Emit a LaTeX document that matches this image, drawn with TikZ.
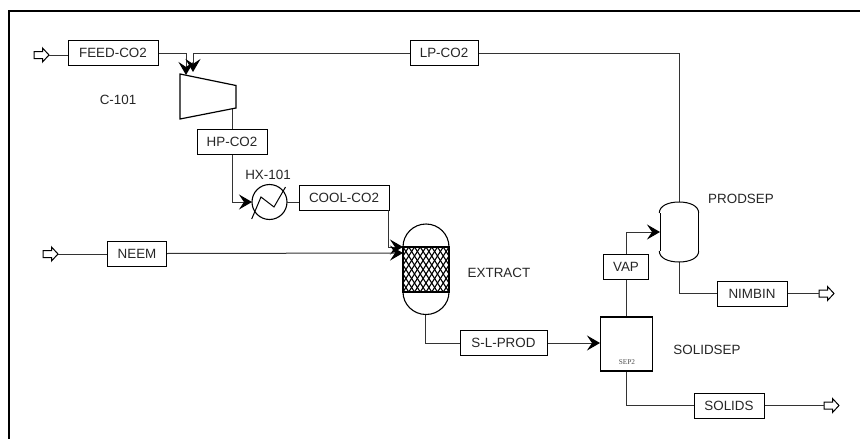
\documentclass[tikz,border=0pt]{standalone}
\usepackage{fontspec}
\setmainfont{Liberation Sans}
\newfontfamily\tagserif{Liberation Serif}
\usetikzlibrary{arrows.meta}
\tikzset{
  streambox/.style={draw=black,line width=1pt,fill=white,inner sep=0pt,font=\fontsize{13.4}{15}\selectfont,text=black!85},
  flow/.style={draw=black!80,line width=1pt},
  flowto/.style={flow,-{Stealth[length=13pt,width=15pt,inset=5pt,black]}},
  portarrow/.style={draw=black,line width=1pt,fill=white,line join=miter},
  tag/.style={font=\fontsize{13.4}{15}\selectfont,text=black!85,inner sep=0pt},
}
\begin{document}
\begin{tikzpicture}[x=1pt,y=-1pt]
\useasboundingbox (0,0) rectangle (860,439);
\fill[white] (0,0) rectangle (860,439);
\draw[line width=2pt,black] (8.5,439) -- (8.5,11) -- (860,11);

% equipment coordinates
\coordinate (compIn1) at (186,75);
\coordinate (compIn2) at (193,72);
\coordinate (compOut) at (232,108);
\coordinate (extIn1) at (403,247);
\coordinate (extIn2) at (403,253);
\coordinate (extOut) at (425.5,314.5);
\coordinate (sepTop) at (679,202);
\coordinate (sepBot) at (679,262);
\coordinate (sepIn) at (660,232);
\coordinate (solidVap) at (626,317);
\coordinate (solidOut) at (626,371);
\coordinate (solidIn) at (600,343);
\coordinate (coolOut) at (388,210);

% stream boxes
\node[streambox,minimum width=90pt,minimum height=25pt] (feed) at (113,53) {FEED-CO2};
\node[streambox,minimum width=68pt,minimum height=25pt] (lp) at (444,53) {LP-CO2};
\node[streambox,minimum width=70pt,minimum height=25pt] (hp) at (232,141.5) {HP-CO2};
\node[streambox,minimum width=90pt,minimum height=25pt] (cool) at (344,197.5) {COOL-CO2};
\node[streambox,minimum width=59pt,minimum height=25pt] (neem) at (137,253.5) {NEEM};
\node[streambox,minimum width=87pt,minimum height=25pt] (slprod) at (503.5,343) {S-L-PROD};
\node[streambox,minimum width=45pt,minimum height=25pt] (vap) at (626,266.5) {VAP};
\node[streambox,minimum width=70pt,minimum height=25pt] (nimbin) at (752,293.5) {NIMBIN};
\node[streambox,minimum width=70pt,minimum height=25pt] (solids) at (729,405.5) {SOLIDS};

% HX
\node[draw=black,line width=1.1pt,circle,minimum size=35pt,inner sep=0pt,outer sep=0pt,fill=white] (hx) at (269.5,202) {};
\node[tag] (hxl) at (268,175) {HX-101};

% ports
\foreach \n/\x/\y in {pFeed/34/55,pNeem/43/254,pNimbin/819/293.5,pSolids/824/405.5} {
  \coordinate (\n-tail) at (\x,\y);
  \coordinate (\n-tip) at ({\x+15},\y);
  \draw[portarrow] (\x,{\y-3.5}) -- ++(8.5,0) -- ++(0,-3.5) -- ++(6.5,7) -- ++(-6.5,7) -- ++(0,-3.5) -- ++(-8.5,0) -- cycle;
}

% connectors
\draw[flowto] (feed.east) -| (compIn1);
\draw[flowto] (lp.west) -| (compIn2);
\draw[flow] (lp.east) -| (sepTop);
\draw[flow] (compOut) -- (hp.north);
\draw[flowto] (hp.south) |- (hx.west);
\draw[flow] (hx.east) -- (cool.west |- hx.east);
\draw[flowto] (coolOut) |- (extIn1);
\draw[flowto] (neem.east) -- (extIn2);
\draw[flow] (extOut) |- (slprod.west);
\draw[flowto] (slprod.east) -- (solidIn);
\draw[flow] (solidVap) -- (vap.south);
\draw[flowto] (vap.north) |- (sepIn);
\draw[flow] (sepBot) |- (nimbin.west);
\draw[flow] (solidOut) |- (solids.west);
\draw[flow] (pFeed-tip) -- (pFeed-tip -| feed.west);
\draw[flow] (pNeem-tip) -- (pNeem-tip -| neem.west);
\draw[flow] (nimbin.east) -- (pNimbin-tail);
\draw[flow] (solids.east) -- (pSolids-tail);

% compressor
\draw[line width=1.2pt,black] (180,74) -- (236,85.5) -- (236,108) -- (180,119) -- cycle;
\node[tag] (c101) at (118,100) {C-101};

% heat exchanger zigzag
\draw[line width=1pt,black] (251.7,219) -- (261,197) -- (274,207) -- (285.5,187);

% extractor
\begin{scope}
\clip (403,247) rectangle (449,292);
\foreach \i in {-6,...,9} {
  \draw[line width=1.1pt,black] ({403+5.75*\i},247) -- ({403+5.75*\i+28.75},292);
  \draw[line width=1.1pt,black] ({403+5.75*\i},292) -- ({403+5.75*\i+28.75},247);
}
\end{scope}
\draw[line width=1.2pt,black] (403,247) rectangle (449,292);
\draw[line width=1.1pt,black] (403,247) arc[start angle=180,end angle=360,x radius=23,y radius=23];
\draw[line width=1.1pt,black] (403,292) arc[start angle=180,end angle=0,x radius=23,y radius=22.5];
\node[tag] (extl) at (499,273) {EXTRACT};

% separator vessel
\draw[line width=1pt,black] (659.3,213) .. controls (659.3,206) and (668,202) .. (679,202) .. controls (690,202) and (698.7,206) .. (698.7,213);
\draw[line width=1pt,black] (659.3,251) .. controls (659.3,258) and (668,262) .. (679,262) .. controls (690,262) and (698.7,258) .. (698.7,251);
\draw[line width=1pt,black] (660,213) -- (660,251) (698,213) -- (698,251);
\node[tag] (pl) at (741,199) {PRODSEP};

% solid separator
\node[draw=black,line width=1.2pt,minimum width=52pt,minimum height=54pt,inner sep=0pt,outer sep=0pt] (solidsep) at (626.5,344) {};
\node[font=\fontsize{7.3}{8}\selectfont\tagserif,text=black!70,inner sep=0pt] (sep2) at (627,362.5) {SEP2};
\node[tag] (sl) at (707,350) {SOLIDSEP};
\end{tikzpicture}
\end{document}
